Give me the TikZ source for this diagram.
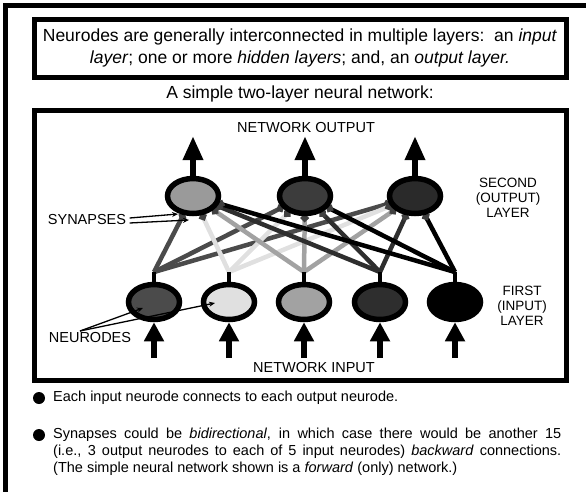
\documentclass[tikz,border=0pt]{standalone}
\usepackage{fontspec}
\setmainfont{Liberation Sans}
\usetikzlibrary{calc,positioning,arrows.meta,shapes.geometric,backgrounds}

% 神经元颜色
\definecolor{inA}{HTML}{4B4B4B}
\definecolor{inB}{HTML}{E0E0E0}
\definecolor{inC}{HTML}{A2A2A2}
\definecolor{inD}{HTML}{2E2E2E}
\definecolor{inE}{HTML}{000000}
\definecolor{outA}{HTML}{9A9A9A}
\definecolor{outB}{HTML}{3C3C3C}
\definecolor{outC}{HTML}{2A2A2A}

\begin{document}
\begin{tikzpicture}[x=1pt, y=-1pt,
    neurode/.style={ellipse, draw=black, line width=5.5pt, minimum width=51pt, minimum height=35pt, inner sep=0pt},
    synline/.style={line width=4.5pt, shorten >=-2pt, -{Circle[length=7.5pt, color=black!75]}},
    outarrow/.style={line width=6pt, -{Triangle[width=19pt, length=24pt]}},
    inarrow/.style={line width=6pt, -{Triangle[width=19pt, length=19pt]}},
    boxline/.style={line width=5pt},
    capsfont/.style={font=\fontsize{14.5pt}{17pt}\selectfont},
    sidelabel/.style={font=\fontsize{13.5pt}{15pt}\selectfont, align=center},
    pointer/.style={line width=1.3pt, -{Stealth[length=6pt, width=5pt]}}]

    % 页面大小与外框
    \useasboundingbox (0,0) rectangle (586,491);
    \clip (0,0) rectangle (586,491);
    \draw[boxline] (5.5,600) -- (5.5,5.5) -- (700,5.5);

    % 说明文字框
    \draw[boxline] (34.5,19.5) rectangle (566.5,77.5);
    \node[font=\fontsize{17.5pt}{22pt}\selectfont, align=center] (intro) at (300,48) {
        Neurodes are generally interconnected in multiple layers:\ \ an \textit{input}\\
        \textit{layer}; one or more \textit{hidden layers}; and, an \textit{output layer.}
    };
    \node[font=\fontsize{17.5pt}{20pt}\selectfont] (title) at (300,94) {A simple two-layer neural network:};

    % 网络框
    \draw[boxline] (34.5,110.5) rectangle (566.5,380.5);

    % 第二层（输出层）
    \node[neurode, fill=outA] (out1) at (193,196) {};
    \node[neurode, fill=outB] (out2) at (305,196) {};
    \node[neurode, fill=outC] (out3) at (415,196) {};

    % 第一层（输入层）
    \node[neurode, fill=inA] (in1) at (154,302) {};
    \node[neurode, fill=inB] (in2) at (229,302) {};
    \node[neurode, fill=inC] (in3) at (304,302) {};
    \node[neurode, fill=inD] (in4) at (380,302) {};
    \node[neurode, fill=inE] (in5) at (455,302) {};

    % 分叉点
    \coordinate (j1) at (154,272);
    \coordinate (j2) at (229,272);
    \coordinate (j3) at (304,272);
    \coordinate (j4) at (380,272);
    \coordinate (j5) at (455,272);

    % 突触连线
    \begin{scope}[on background layer]
        \foreach \i/\c in {1/inA,2/inB,3/inC,4/inD,5/inE}
            \foreach \o in {1,2,3}
                \draw[synline, color=\c] (j\i) -- (out\o);
    \end{scope}
    \foreach \i in {1,...,5}
        \draw[line width=4pt] (in\i) -- (j\i);

    % 输出箭头
    \coordinate (o1) at (193,136);
    \coordinate (o2) at (305,136);
    \coordinate (o3) at (415,136);
    \foreach \o in {1,2,3}
        \draw[outarrow] (out\o) -- (o\o);

    % 输入箭头
    \coordinate (i1) at (154,358);
    \coordinate (i2) at (229,358);
    \coordinate (i3) at (304,358);
    \coordinate (i4) at (380,358);
    \coordinate (i5) at (455,358);
    \foreach \i in {1,...,5}
        \draw[inarrow] (i\i) -- (in\i);

    % 标签
    \node[capsfont] (netout) at (306,128) {NETWORK OUTPUT};
    \node[capsfont] (netin) at (314,367) {NETWORK INPUT};
    \node[sidelabel] (second) at (508,198) {SECOND\\(OUTPUT)\\LAYER};
    \node[sidelabel] (first) at (522,306) {FIRST\\(INPUT)\\LAYER};

    \node[capsfont] (syn) at (87,220) {SYNAPSES};
    \coordinate (s1) at (178,214);
    \coordinate (s2) at (189,220);
    \draw[pointer] (syn.east) ++(0,-2) coordinate (sa) (sa) -- (s1);
    \draw[pointer] (syn.east) ++(0,3) coordinate (sb) (sb) -- (s2);

    \node[capsfont] (neu) at (90,338) {NEURODES};
    \coordinate (n1) at (143,308);
    \coordinate (n2) at (215,303);
    \coordinate (na) at (80,331);
    \draw[pointer] (na) -- (n1);
    \draw[pointer] (na) -- (n2);

    % 说明要点
    \fill (39,398) circle (6);
    \node[anchor=west, font=\fontsize{14.5pt}{17pt}\selectfont, inner sep=0pt] (pt1) at (53,398)
        {Each input neurode connects to each output neurode.};
    \fill (39,435) circle (6);
    \node[anchor=north west, align=left, font=\fontsize{14.5pt}{17pt}\selectfont, inner sep=0pt] (pt2) at (53,428) {
        \makebox[508pt][s]{Synapses could be \textit{bidirectional}, in which case there would be another 15}\\
        \makebox[508pt][s]{(i.e., 3 output neurodes to each of 5 input neurodes) \textit{backward} connections.}\\
        (The simple neural network shown is a \textit{forward} (only) network.)
    };
\end{tikzpicture}
\end{document}
